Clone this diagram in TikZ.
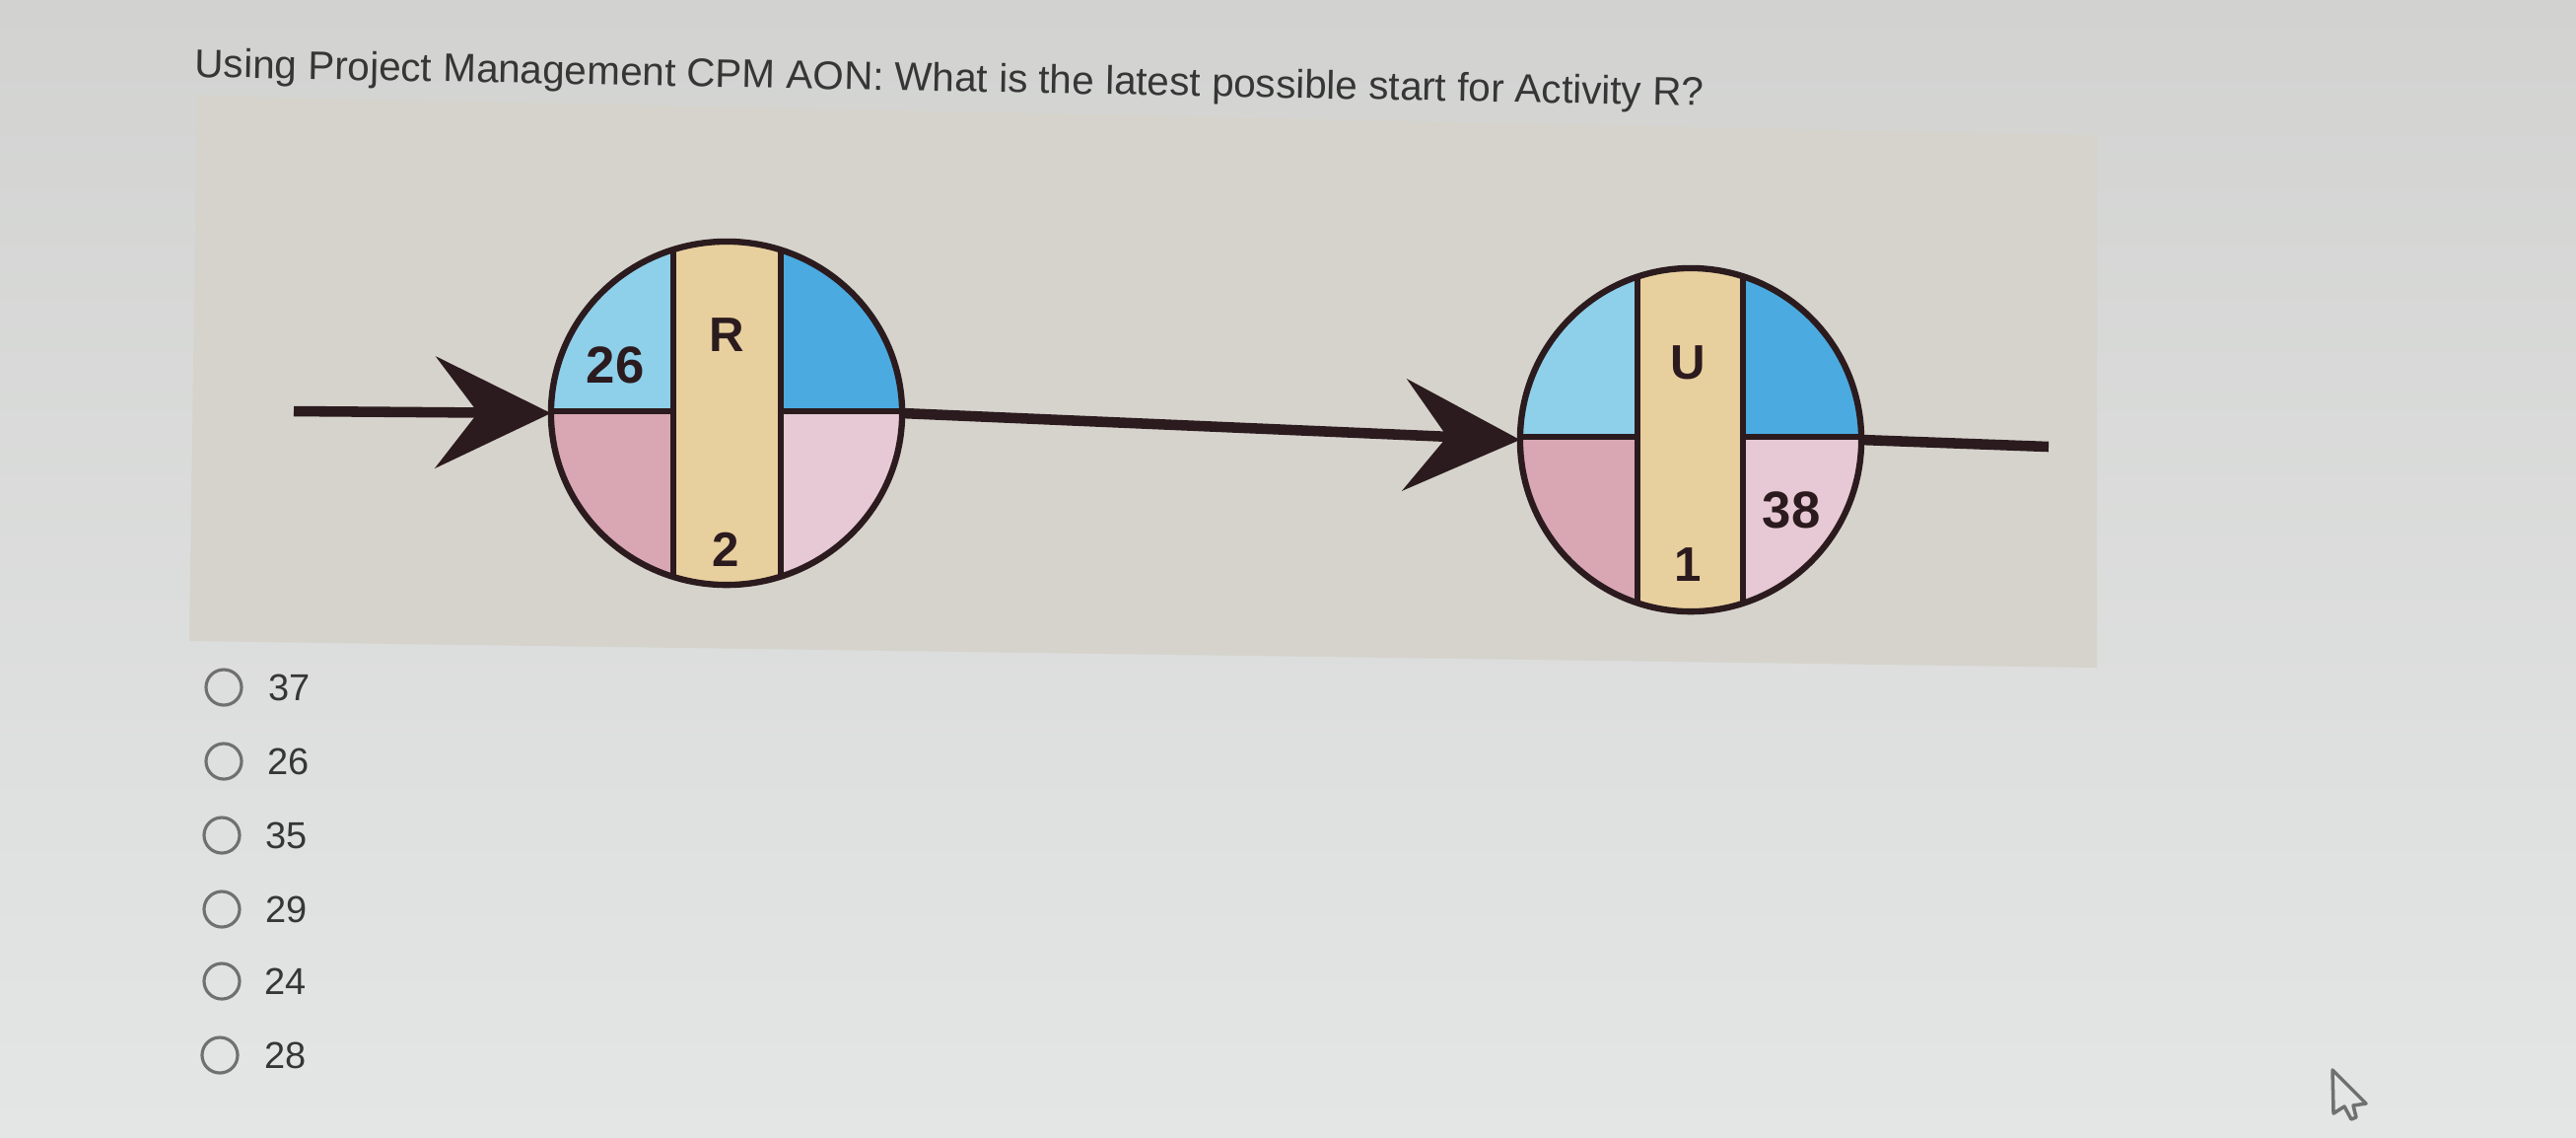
\documentclass[tikz,border=0pt]{standalone}
\usepackage{fontspec}
\setmainfont{Liberation Sans}
\usetikzlibrary{arrows.meta,shapes.geometric}
\definecolor{pageGray}{HTML}{D2D3D1}
\definecolor{pageLight}{HTML}{E4E6E6}
\definecolor{panelGray}{HTML}{D5D3CC}
\definecolor{earlyBlue}{HTML}{8ECFEA}
\definecolor{finishBlue}{HTML}{4BAAE0}
\definecolor{latePink}{HTML}{D8A7B3}
\definecolor{lightPink}{HTML}{E6C9D4}
\definecolor{bandTan}{HTML}{E8CF9E}
\definecolor{inkBrown}{HTML}{2B1B1E}
\definecolor{radioGray}{HTML}{707070}
\definecolor{textGray}{HTML}{363636}

\tikzset{
  actnode/.style={ellipse, draw=inkBrown, line width=1.8pt, inner sep=0pt, outer sep=0pt},
  bandline/.style={draw=inkBrown, line width=1.8pt},
  link/.style={draw=inkBrown, line width=3pt, -{Stealth[length=1.17cm, width=1.13cm, inset=0.43cm]}},
  cell/.style={font=\fontsize{14}{14}\selectfont\bfseries, text=inkBrown},
  cellnum/.style={font=\fontsize{15}{15}\selectfont\bfseries, text=inkBrown},
  radio/.style={circle, draw=radioGray, line width=0.9pt, minimum size=0.36cm, inner sep=0pt},
  choice/.style={font=\fontsize{10.8}{11}\selectfont, text=textGray, anchor=west, inner sep=0pt}
}

\begin{document}
\begin{tikzpicture}[x=0.01cm, y=-0.01cm]
   \useasboundingbox (0,0) rectangle (2613,1153);
   % Page and picture panel.
   \shade [top color=pageGray, bottom color=pageLight] (0,0) rectangle (2613,1153);
   \fill [panelGray] (200,97) -- (2127,137) -- (2127,677) -- (192,650) -- cycle;
   % Question.
   \node [anchor=base west, rotate=-1.1, inner sep=0pt, text=textGray,
     font=\fontsize{11.5}{12}\selectfont] (question) at (197,78)
     {Using Project Management CPM AON: What is the latest possible start for Activity R?};
   % Activity R.
   \begin{scope}
     \clip (737,419) ellipse [x radius=178, y radius=174];
     \fill [earlyBlue] (559,240) rectangle (737,417);
     \fill [finishBlue] (737,240) rectangle (915,417);
     \fill [latePink] (559,417) rectangle (737,600);
     \fill [lightPink] (737,417) rectangle (915,600);
     \filldraw [fill=bandTan, bandline] (683,230) rectangle (792,610);
   \end{scope}
   \draw [bandline] (559,417) -- (683,417);
   \draw [bandline] (792,417) -- (915,417);
   \node [actnode, minimum width=3.56cm, minimum height=3.48cm] (R) at (737,419) {};
    \node [cell] (rName) at (737,340) {R};
    \node [cell] (rDur) at (736,557) {2};
    \node [cellnum] (rES) at (624,370) {26};
   % Activity U.
   \begin{scope}
     \clip (1715,446) ellipse [x radius=173, y radius=174];
     \fill [earlyBlue] (1542,265) rectangle (1715,443);
     \fill [finishBlue] (1715,265) rectangle (1888,443);
     \fill [latePink] (1542,443) rectangle (1715,625);
     \fill [lightPink] (1715,443) rectangle (1888,625);
     \filldraw [fill=bandTan, bandline] (1661,260) rectangle (1768,630);
   \end{scope}
   \draw [bandline] (1542,443) -- (1661,443);
   \draw [bandline] (1768,443) -- (1888,443);
   \node [actnode, minimum width=3.46cm, minimum height=3.48cm] (U) at (1715,446) {};
    \node [cell] (uName) at (1712,368) {U};
    \node [cell] (uDur) at (1712,573) {1};
    \node [cellnum] (uLF) at (1817,517) {38};
   % Connectors.
   \coordinate (rIn) at (298,417);
   \coordinate (uOut) at (2078,453);
   \draw [link] (rIn) -- (R.west);
   \draw [link] (R.east) -- (U.west);
   \draw [draw=inkBrown, line width=3pt] (U.east) -- (uOut);
   % Answer choices.
   \node [radio] (radioA) at (227,697) {};
    \node [choice] (choiceA) at (272,697) {37};
   \node [radio] (radioB) at (227,772) {};
    \node [choice] (choiceB) at (271,772) {26};
   \node [radio] (radioC) at (225,847) {};
    \node [choice] (choiceC) at (269,847) {35};
   \node [radio] (radioD) at (225,922) {};
    \node [choice] (choiceD) at (269,922) {29};
   \node [radio] (radioE) at (225,995) {};
    \node [choice] (choiceE) at (268,995) {24};
   \node [radio] (radioF) at (223,1070) {};
    \node [choice] (choiceF) at (268,1070) {28};
   % Mouse pointer.
   \filldraw [fill=pageLight, draw=radioGray, line width=1pt, line join=round]
     (2366,1085) -- (2367,1129) -- (2378,1122) -- (2385,1135) -- (2390,1133)
     -- (2387,1121) -- (2400,1119) -- cycle;
\end{tikzpicture}
\end{document}
